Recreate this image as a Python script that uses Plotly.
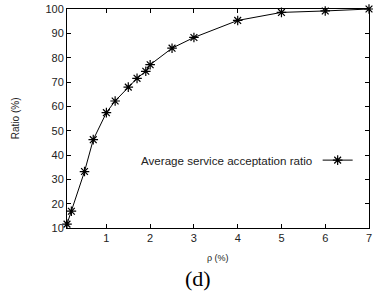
import plotly.graph_objects as go

rho = [0.1, 0.2, 0.5, 0.7, 1.0, 1.2, 1.5, 1.7, 1.9, 2.0, 2.5, 3.0, 4.0, 5.0, 6.0, 7.0]
ratio = [11.6, 16.9, 33.2, 46.3, 57.4, 62.2, 67.9, 71.5, 74.4, 77.1, 83.9, 88.3, 95.3, 98.6, 99.2, 100.0]
x_ticks = [1, 2, 3, 4, 5, 6, 7]
y_ticks = [10, 20, 30, 40, 50, 60, 70, 80, 90, 100]
series_name = "Average service acceptation ratio"

fig = go.Figure()
fig.add_trace(go.Scatter(
    x=rho, y=ratio, mode="lines+markers", name=" ",
    line=dict(color="black", width=1),
    marker=dict(symbol="asterisk-open", size=8, color="black", line=dict(color="black", width=1.2)),
    cliponaxis=False,
))

axis_common = dict(
    showgrid=False, zeroline=False, showline=True, linecolor="black", linewidth=1,
    mirror="ticks", ticks="inside", ticklen=4, tickcolor="black",
    ticklabeloverflow="allow",
    tickfont=dict(family="Liberation Sans, Arial", size=11, color="#222"),
)
fig.update_xaxes(range=[0.1, 7], tickvals=x_ticks, **axis_common)
fig.update_yaxes(range=[10, 100], tickvals=y_ticks, **axis_common)

fig.update_layout(
    width=373, height=297,
    margin=dict(l=67, r=1, t=9, b=69),
    paper_bgcolor="white", plot_bgcolor="white",
    showlegend=True,
    legend=dict(x=0.83, y=0.31, xanchor="left", yanchor="middle",
                bgcolor="rgba(0,0,0,0)", font=dict(size=11)),
    annotations=[
        dict(text=series_name, xref="paper", yref="paper", x=0.818, y=0.31,
             xanchor="right", yanchor="middle", showarrow=False,
             font=dict(family="Liberation Sans, Arial", size=11.6, color="#222")),
        dict(text="Ratio (%)", xref="paper", yref="paper", x=-0.17, y=0.5,
             xanchor="center", yanchor="middle", textangle=-90, showarrow=False,
             font=dict(family="Liberation Sans, Arial", size=10, color="#222")),
        dict(text="ρ (%)", xref="paper", yref="paper", x=0.5, y=-0.135,
             xanchor="center", yanchor="middle", showarrow=False,
             font=dict(family="Liberation Sans, Arial", size=9, color="#222")),
        dict(text="(d)", xref="paper", yref="paper", x=0.435, y=-0.23,
             xanchor="center", yanchor="middle", showarrow=False,
             font=dict(family="Liberation Serif, Times New Roman, serif", size=22, color="black")),
    ],
)

fig.write_html("out.html", config={"displayModeBar": False},
               post_script="document.body.style.margin='0px';")
